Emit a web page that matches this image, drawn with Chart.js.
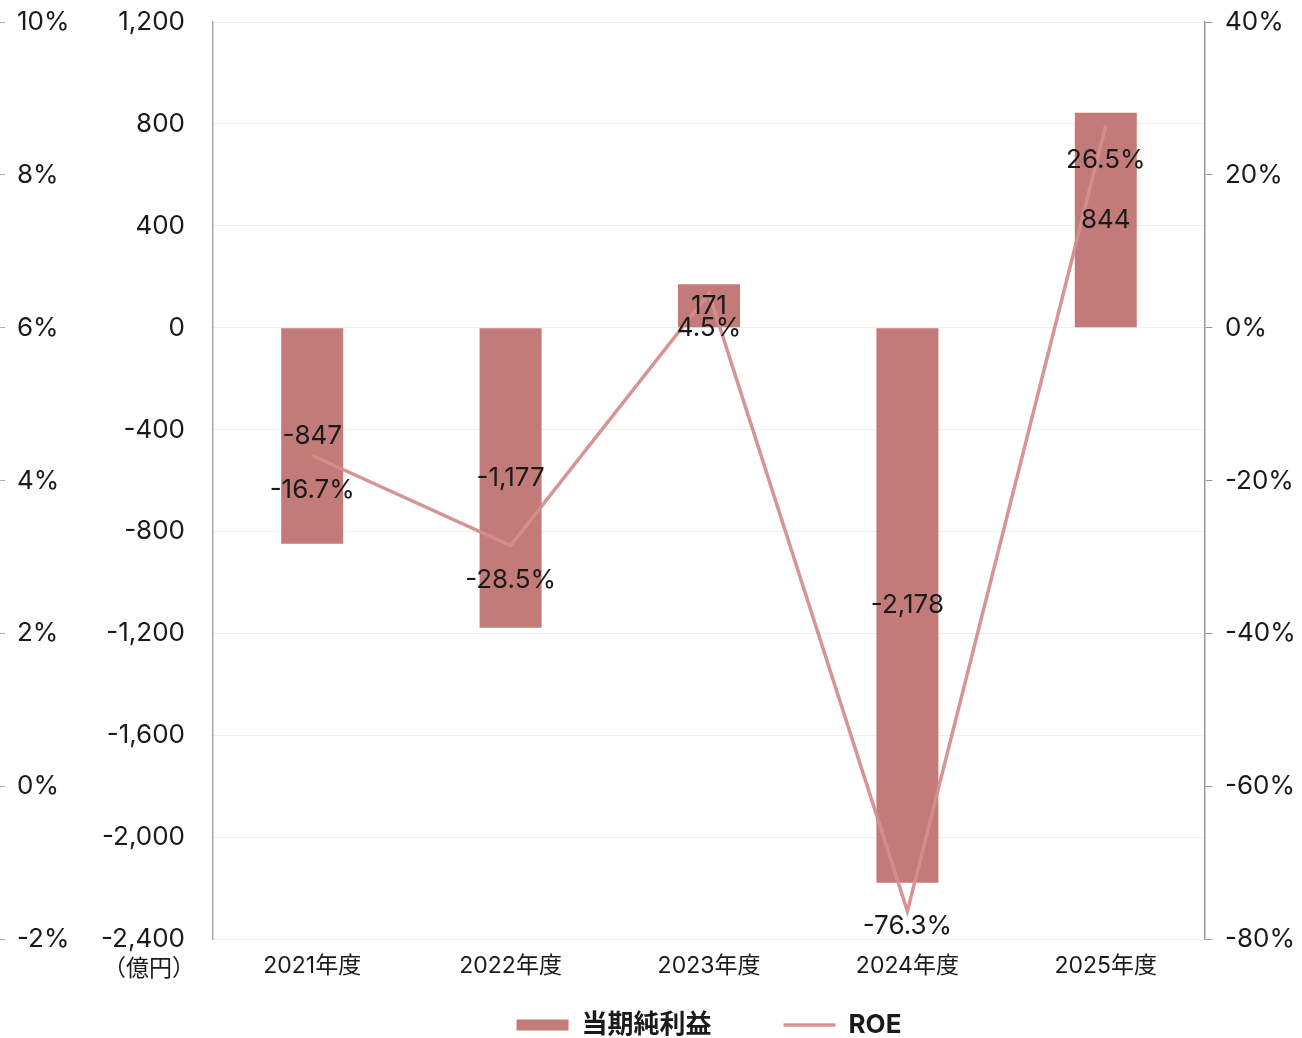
<!DOCTYPE html>
<html>
<head>
<meta charset="utf-8">
<script src="https://cdn.jsdelivr.net/npm/chart.js@4/dist/chart.umd.min.js"></script>
<style>
  html, body { margin: 0; padding: 0; background: #ffffff; }
  #wrap { width: 1302px; height: 1038px; position: relative; }
</style>
</head>
<body>
<div id="wrap"><canvas id="c"></canvas></div>
<script>
const categories = ['2021年度', '2022年度', '2023年度', '2024年度', '2025年度'];
const netIncome = [-847, -1177, 171, -2178, 844];
const roe = [-16.7, -28.5, 4.5, -76.3, 26.5];
const seriesNames = ['当期純利益', 'ROE'];
const unitLabel = '（億円）';

const FONT = 'Inter, "Noto Sans CJK JP", sans-serif';
const barColor = '#c27b79';
const lineColor = 'rgba(212,143,141,0.95)';
const textColor = '#1a1a1a';

const fmt = v => v.toLocaleString('en-US');

const labelPlugin = {
  id: 'valueLabels',
  afterDatasetsDraw(chart) {
    const ctx = chart.ctx;
    const area = chart.chartArea;
    ctx.save();
    ctx.font = '26px ' + FONT;
    ctx.fillStyle = textColor;
    ctx.textAlign = 'center';
    ctx.textBaseline = 'middle';
    const barMeta = chart.getDatasetMeta(0);
    barMeta.data.forEach((el, i) => {
      const p = el.getProps(['x', 'y', 'base'], true);
      ctx.fillText(fmt(netIncome[i]), p.x, (p.y + p.base) / 2);
    });
    const lineMeta = chart.getDatasetMeta(1);
    lineMeta.data.forEach((el, i) => {
      const p = el.getProps(['x', 'y'], true);
      const y = Math.min(p.y + 35, area.bottom - 13);
      ctx.fillText(roe[i].toFixed(1) + '%', p.x, y);
    });
    const s = chart.scales.y;
    ctx.font = '23px ' + FONT;
    ctx.textAlign = 'right';
    ctx.fillText(unitLabel, s.right - 18, s.bottom + 30);
    ctx.restore();
  }
};

new Chart(document.getElementById('c'), {
  data: {
    labels: categories,
    datasets: [
      {
        type: 'bar',
        label: seriesNames[0],
        data: netIncome,
        backgroundColor: barColor,
        borderWidth: 0,
        yAxisID: 'y',
        order: 1,
        categoryPercentage: 1,
        barPercentage: 0.3125,
        pointStyle: 'rect'
      },
      {
        type: 'line',
        label: seriesNames[1],
        data: roe,
        borderColor: lineColor,
        backgroundColor: lineColor,
        borderWidth: 3.5,
        pointRadius: 0,
        pointHoverRadius: 0,
        tension: 0,
        yAxisID: 'y1',
        order: 0,
        pointStyle: 'line'
      }
    ]
  },
  plugins: [labelPlugin],
  options: {
    responsive: true,
    maintainAspectRatio: false,
    animation: false,
    layout: { padding: { top: 22, right: 0, bottom: -10, left: 0 } },
    plugins: {
      legend: {
        position: 'bottom',
        fullSize: false,
        labels: {
          usePointStyle: true,
          pointStyleWidth: 52,
          boxHeight: 11,
          padding: 20,
          color: textColor,
          font: { family: FONT, size: 26, weight: 'bold' },
          sort: (a, b) => a.datasetIndex - b.datasetIndex,
          generateLabels: chart => {
            const items = Chart.defaults.plugins.legend.labels.generateLabels(chart);
            items.forEach(it => { if (it.datasetIndex === 0) it.text = it.text + '\u3000\u3000'; });
            return items;
          }
        }
      },
      tooltip: { enabled: false }
    },
    scales: {
      x: {
        grid: { display: false },
        border: { display: false },
        ticks: { color: textColor, padding: 5, font: { family: FONT, size: 23 } },
        afterFit: s => { s.height += 7; }
      },
      y: {
        position: 'left',
        weight: 0,
        min: -2400, max: 1200,
        ticks: { stepSize: 400, color: textColor, padding: 2, font: { family: FONT, size: 26 }, callback: v => fmt(v) },
        grid: { color: '#efefef', drawTicks: true, tickLength: 26, tickColor: 'rgba(0,0,0,0)' },
        border: { display: true, color: '#aaaaaa', width: 1.5 },
        afterFit: s => { s.width = 198; }
      },
      yPct: {
        position: 'left',
        weight: 1,
        min: -2, max: 10,
        ticks: { stepSize: 2, mirror: true, padding: 2, color: textColor, font: { family: FONT, size: 26 }, callback: v => v + '%' },
        grid: { drawOnChartArea: false, tickLength: 15, color: '#aaaaaa', tickBorderDash: [5, 10] },
        border: { display: false },
        afterFit: s => { s.width = 15; }
      },
      y1: {
        position: 'right',
        min: -80, max: 40,
        ticks: { stepSize: 20, padding: 2, color: textColor, font: { family: FONT, size: 26 }, callback: v => v + '%' },
        grid: { drawOnChartArea: false, tickLength: 18, color: '#999999', tickBorderDash: [7, 11] },
        border: { display: true, color: '#999999', width: 1.5 },
        afterFit: s => { s.width = 97; }
      }
    }
  }
});
</script>
</body>
</html>
